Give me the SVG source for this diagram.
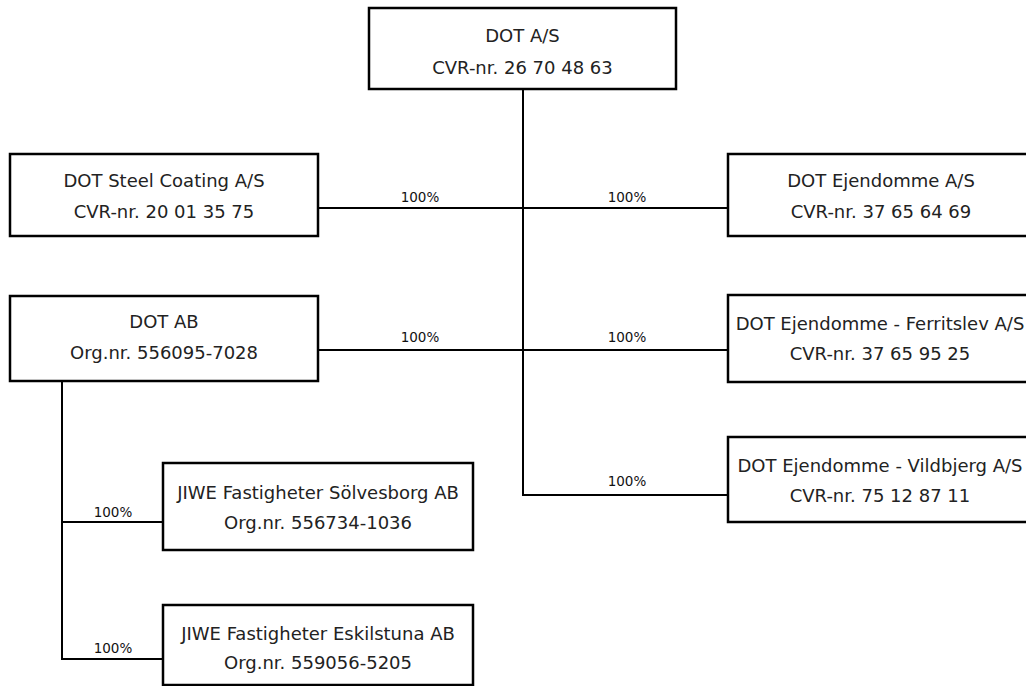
<svg xmlns="http://www.w3.org/2000/svg" width="1026" height="686" viewBox="0 0 1026 686">
<style>
.box{fill:#fff;stroke:#000;stroke-width:2.5}
.t{font-family:"DejaVu Sans",Verdana,sans-serif;font-size:18px;fill:#222;text-anchor:middle}
.p{font-family:"DejaVu Sans",Verdana,sans-serif;font-size:13.5px;fill:#111;text-anchor:middle}
.c{fill:none;stroke:#000;stroke-width:2}
</style>
<rect width="1026" height="686" fill="#fff"/>
<g id="connectors">
<path class="c" d="M523,89 V495 H728"/>
<path class="c" d="M318,208 H728"/>
<path class="c" d="M318,350 H728"/>
<path class="c" d="M62,381 V659 H163"/>
<path class="c" d="M62,522 H163"/>
<text class="p" x="420" y="202">100%</text>
<text class="p" x="627" y="202">100%</text>
<text class="p" x="420" y="342">100%</text>
<text class="p" x="627" y="342">100%</text>
<text class="p" x="627" y="486">100%</text>
<text class="p" x="113" y="517">100%</text>
<text class="p" x="113" y="653">100%</text>
</g>
<g id="dot-as">
<rect class="box" x="369" y="8" width="307" height="81"/>
<text class="t" x="522.5" y="42">DOT A/S</text>
<text class="t" x="522.5" y="74">CVR-nr. 26 70 48 63</text>
</g>
<g id="steel-coating">
<rect class="box" x="10" y="154" width="308" height="82"/>
<text class="t" x="164" y="187">DOT Steel Coating A/S</text>
<text class="t" x="164" y="218">CVR-nr. 20 01 35 75</text>
</g>
<g id="ejendomme">
<rect class="box" x="728" y="154" width="305" height="82"/>
<text class="t" x="881" y="187">DOT Ejendomme A/S</text>
<text class="t" x="881" y="218">CVR-nr. 37 65 64 69</text>
</g>
<g id="dot-ab">
<rect class="box" x="10" y="296" width="308" height="85"/>
<text class="t" x="164" y="328">DOT AB</text>
<text class="t" x="164" y="359">Org.nr. 556095-7028</text>
</g>
<g id="ferritslev">
<rect class="box" x="728" y="295" width="305" height="87"/>
<text class="t" x="880" y="330">DOT Ejendomme - Ferritslev A/S</text>
<text class="t" x="880" y="360">CVR-nr. 37 65 95 25</text>
</g>
<g id="vildbjerg">
<rect class="box" x="728" y="437" width="305" height="85"/>
<text class="t" x="880" y="472">DOT Ejendomme - Vildbjerg A/S</text>
<text class="t" x="880" y="502">CVR-nr. 75 12 87 11</text>
</g>
<g id="jiwe-solvesborg">
<rect class="box" x="163" y="463" width="310" height="87"/>
<text class="t" x="318" y="499">JIWE Fastigheter Sölvesborg AB</text>
<text class="t" x="318" y="529">Org.nr. 556734-1036</text>
</g>
<g id="jiwe-eskilstuna">
<rect class="box" x="163" y="605" width="310" height="80"/>
<text class="t" x="318" y="640">JIWE Fastigheter Eskilstuna AB</text>
<text class="t" x="318" y="669">Org.nr. 559056-5205</text>
</g>
</svg>
